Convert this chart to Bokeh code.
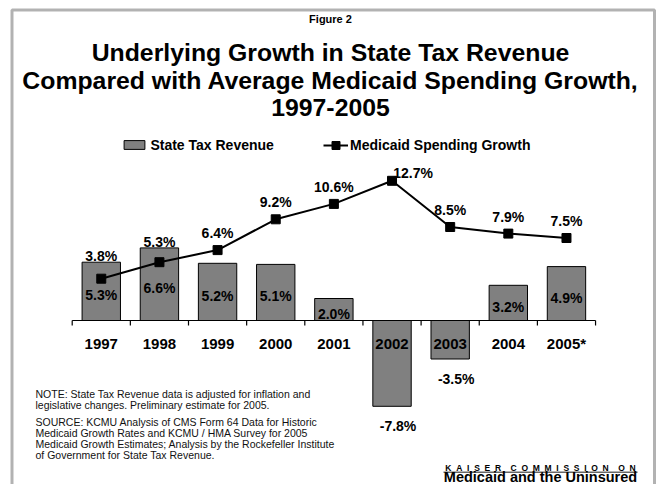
from bokeh.plotting import figure
from bokeh.models import (Range1d, Label, Legend, LegendItem, BoxAnnotation,
                          ColumnDataSource)
from bokeh.embed import file_html
from bokeh.resources import INLINE
from bokeh.core.properties import value

# ---------------- data ----------------
years = ["1997", "1998", "1999", "2000", "2001", "2002", "2003", "2004", "2005*"]
tax_revenue = [5.3, 6.6, 5.2, 5.1, 2.0, -7.8, -3.5, 3.2, 4.9]
medicaid_growth = [3.8, 5.3, 6.4, 9.2, 10.6, 12.7, 8.5, 7.9, 7.5]

figure_label = "Figure 2"
title_lines = ["Underlying Growth in State Tax Revenue",
               "Compared with Average Medicaid Spending Growth,",
               "1997-2005"]
note_lines = ["NOTE: State Tax Revenue data is adjusted for inflation and",
              "legislative changes.  Preliminary estimate for 2005."]
source_lines = ["SOURCE: KCMU Analysis of CMS Form 64 Data for Historic",
                "Medicaid Growth Rates and KCMU / HMA Survey for 2005",
                "Medicaid Growth Estimates; Analysis by the Rockefeller Institute",
                "of Government for State Tax Revenue."]
logo_words = ["KAISER", "COMMISSION", "ON"]
logo_bottom = "Medicaid and the Uninsured"

# letter-spaced logo line (non-breaking spaces so they are not collapsed)
_gap = "\u00a0\u00a0"
logo_top = (_gap * 2).join(_gap.join(w) for w in logo_words)

# ---------------- layout helpers ----------------
W, H = 656, 484
OFF = 0                 # observed page offset of the canvas
X0_PAGE = 71.7          # page x of the left end of the category axis
UNIT_X = 58.15          # px per category
Y0_PAGE = 320.0         # page y of the zero line
UNIT_Y = 11.0           # px per percentage point
FONT = "Liberation Sans"


def dx(px):
    return (px - X0_PAGE) / UNIT_X


def dy(py):
    return (Y0_PAGE - py) / UNIT_Y


n = len(years)
xs = [i + 0.5 for i in range(n)]

p = figure(width=W, height=H, x_range=Range1d(dx(OFF), dx(OFF + W)),
           y_range=Range1d(dy(OFF + H), dy(OFF)),
           x_axis_type=None, y_axis_type=None, title=None,
           toolbar_location=None, output_backend="svg", min_border=0)
p.outline_line_color = None
p.background_fill_color = "white"
p.border_fill_color = "white"

# bars
src = ColumnDataSource(dict(x=xs, tax=tax_revenue, med=medicaid_growth, year=years))
bars = p.vbar(x="x", top="tax", bottom=0, width=0.66, source=src,
              fill_color="#808080", line_color="black", line_width=1)

# category axis (line + boundary ticks)
p.line(x=[0, n], y=[0, 0], line_color="black", line_width=1.2)
ticks = list(range(n + 1))
p.segment(x0=ticks, y0=[0] * len(ticks), x1=ticks, y1=[dy(Y0_PAGE + 5)] * len(ticks),
          line_color="black", line_width=1.2)

# medicaid line
line_r = p.line(x="x", y="med", source=src, line_color="black", line_width=2)
sq_r = p.scatter(x="x", y="med", source=src, marker="square", size=9,
                 fill_color="black", line_color="black")

# year labels
p.text(x="x", y=0, text="year", source=src, y_offset=23,
       text_font=value(FONT), text_font_style="bold", text_font_size="15px",
       text_align="center", text_baseline="middle", text_color="black")

# bar value labels
bar_y, bar_xo, bar_yo, bar_txt = [], [], [], []
for v in tax_revenue:
    bar_txt.append(f"{v:.1f}%")
    if v >= 0:
        bar_y.append(v / 2.0)
        bar_xo.append(0)
        bar_yo.append(4)
    else:
        bar_y.append(v)
        bar_xo.append(6)
        bar_yo.append(20)
p.text(x=xs, y=bar_y, text=bar_txt, x_offset=bar_xo, y_offset=bar_yo,
       text_font=value(FONT), text_font_style="bold", text_font_size="14px",
       text_align="center", text_baseline="middle", text_color="black")

# line value labels: above the marker, or just above the bar if the marker
# sits inside the bar; the peak label goes to the upper right
imax = medicaid_growth.index(max(medicaid_growth))
ln_y, ln_xo, ln_yo = [], [], []
for i, (m, b) in enumerate(zip(medicaid_growth, tax_revenue)):
    if i == imax:
        ln_y.append(m); ln_xo.append(21); ln_yo.append(-8)
    elif m < b:
        ln_y.append(b); ln_xo.append(0); ln_yo.append(-6)
    else:
        ln_y.append(m); ln_xo.append(0); ln_yo.append(-17)
p.text(x=xs, y=ln_y, text=[f"{v:.1f}%" for v in medicaid_growth],
       x_offset=ln_xo, y_offset=ln_yo,
       text_font=value(FONT), text_font_style="bold", text_font_size="14px",
       text_align="center", text_baseline="middle", text_color="black")

# legends
leg1 = Legend(items=[LegendItem(label="State Tax Revenue", renderers=[bars])],
              orientation="horizontal", location=(121.4 - OFF, H - (152.5 - OFF)),
              padding=0, margin=0, glyph_width=26, glyph_height=11,
              label_standoff=3, label_height=16,
              label_text_font=FONT, label_text_font_style="bold",
              label_text_color="black",
              label_text_font_size="14px", border_line_color=None,
              background_fill_alpha=0)
leg2 = Legend(items=[LegendItem(label="Medicaid Spending Growth",
                                renderers=[line_r, sq_r])],
              orientation="horizontal", location=(323 - OFF, H - (155 - OFF)),
              padding=0, margin=0, glyph_width=25, glyph_height=20,
              label_standoff=2, label_height=16,
              label_text_font=FONT, label_text_font_style="bold",
              label_text_color="black",
              label_text_font_size="14px", border_line_color=None,
              background_fill_alpha=0)
p.add_layout(leg1)
p.add_layout(leg2)

# titles
p.add_layout(Label(x=dx(330), y=dy(18), text=figure_label, text_font=FONT,
                   text_font_style="bold", text_font_size="11px", text_color="black",
                   text_align="center", text_baseline="middle"))
for t, yy in zip(title_lines, [52, 80, 107]):
    p.add_layout(Label(x=dx(330), y=dy(yy), text=t, text_font=FONT,
                       text_font_style="bold", text_font_size="24.8px",
                       text_color="black",
                       text_align="center", text_baseline="middle"))

# notes
for t, yy in zip(note_lines + source_lines, [393.3, 404.3, 421.7, 432.5, 443.3, 454.3]):
    p.add_layout(Label(x=dx(35), y=dy(yy), text=t, text_font=FONT,
                       text_font_size="10.5px", text_color="#111111",
                       text_align="left", text_baseline="middle"))

# logo
p.add_layout(Label(x=dx(540), y=dy(467.5), text=logo_top, text_font=FONT,
                   text_font_style="bold", text_font_size="8.5px", text_color="black",
                   text_align="center", text_baseline="middle"))
p.add_layout(BoxAnnotation(left=dx(443), right=dx(637), top=dy(471), bottom=dy(472.5),
                           fill_color="#666666", fill_alpha=1, line_color=None))
p.add_layout(Label(x=dx(540), y=dy(476.5), text=logo_bottom, text_font=FONT,
                   text_font_style="bold", text_font_size="14.5px", text_color="black",
                   text_align="center", text_baseline="middle"))

# outer frame
p.add_layout(BoxAnnotation(left=dx(11.5), right=dx(654), top=dy(9.5), bottom=dy(560),
                           fill_alpha=0, line_color="black", line_width=3))

open("out.html", "w").write(file_html(p, INLINE))
